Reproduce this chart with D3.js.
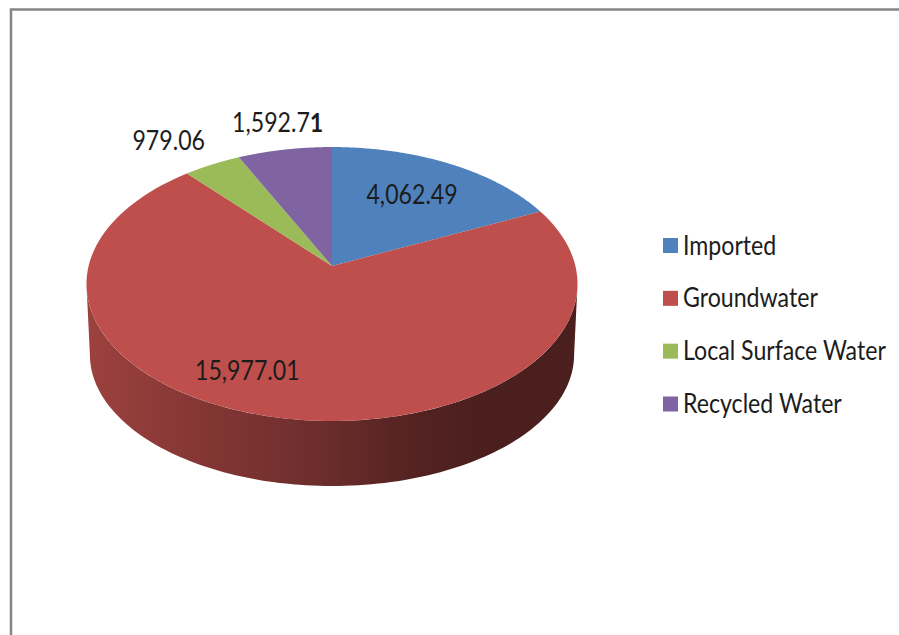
<!DOCTYPE html>
<html>
<head>
<meta charset="utf-8">
<style>
  html, body { margin: 0; padding: 0; background: #fff; }
  svg { display: block; }
  text { font-family: Lato, "Open Sans", sans-serif; fill: #1c1c1c; }
</style>
<script src="https://cdn.jsdelivr.net/npm/d3@7"></script>
</head>
<body>
<svg id="chart" width="899" height="635"></svg>
<script>
// Water supply by source
const categories = ["Imported", "Groundwater", "Local Surface Water", "Recycled Water"];
const values = [4062.49, 15977.01, 979.06, 1592.71];
const valueLabels = ["4,062.49", "15,977.01", "979.06", "1,592.7"];
const colors = ["#4f81bd", "#be4f4c", "#9bbb59", "#8064a2"];

// Disc tilted in perspective: u runs right, v runs away from the viewer.
const apex = { x: 332, y: 266 };
const topFace = { a: 243.4, b: 134.6, cy: apex.y };
const bottomFace = { a: 240, b: 129, cy: 337.5 };
const perspective = 0.1314;

// Text is set in a condensed cut of the face
const fontSize = 26;
const squeeze = 0.89;

function project(face, angle, r = 1) {
  const u = Math.sin(angle) * r, v = Math.cos(angle) * r;
  const w = 1 + perspective * v;
  return [apex.x + face.a * u / w, face.cy - face.b * v / w];
}

const svg = d3.select("#chart");
const line = d3.line();

const pie = d3.pie().sort(null).value(d => d);
const slices = pie(values);

// Outer frame: only the top and left edges fall inside the canvas
svg.append("path")
  .attr("d", "M11 635V9.5H899")
  .attr("fill", "none")
  .attr("stroke", "#858585")
  .attr("stroke-width", 2.5);

// Shaded wall colour runs left to right across the disc
const defs = svg.append("defs");
const wall = defs.append("linearGradient")
  .attr("id", "wallShade")
  .attr("gradientUnits", "userSpaceOnUse")
  .attr("x1", 88).attr("x2", 578).attr("y1", 0).attr("y2", 0);
[[0, 0.55], [0.22, 1.0], [0.48, 1.6], [0.68, 2.35], [0.82, 2.6], [1, 2.65]].forEach(([o, k]) => {
  wall.append("stop").attr("offset", o).attr("stop-color", d3.color(colors[1]).darker(k));
});

const samples = (from, to, n = 120) => d3.range(n + 1).map(i => from + (to - from) * i / n);

// The wall is visible on the near half of the disc, between the silhouette tangents
const tangent = Math.asin(perspective);
const frontStart = Math.PI / 2 + tangent;
const frontEnd = 3 * Math.PI / 2 - tangent;

slices.forEach((s, i) => {
  const from = Math.max(s.startAngle, frontStart);
  const to = Math.min(s.endAngle, frontEnd);
  if (to <= from) return;
  const angles = samples(from, to);
  const points = angles.map(a => project(topFace, a))
    .concat(angles.slice().reverse().map(a => project(bottomFace, a)));
  svg.append("path")
    .attr("d", line(points) + "Z")
    .attr("fill", "url(#wallShade)");
});

// Top face of every slice
slices.forEach((s, i) => {
  const rim = samples(s.startAngle, s.endAngle).map(a => project(topFace, a));
  svg.append("path")
    .attr("d", line([[apex.x, apex.y], ...rim]) + "Z")
    .attr("fill", colors[i]);
});

// Value labels: radial placement along each slice's middle, then a small nudge
const labelPlacement = [
  { r: 0.66, dx: 0, dy: -2 },
  { r: 0.72, dx: -45, dy: -1 },
  { r: 1.26, dx: -16, dy: -1 },
  { r: 1.27, dx: 4, dy: -1 }
];
slices.forEach((s, i) => {
  const mid = (s.startAngle + s.endAngle) / 2;
  const place = labelPlacement[i];
  const [x, y] = project(topFace, mid, place.r);
  const label = svg.append("text")
    .attr("transform", `translate(${x + place.dx},${y + place.dy}) scale(${squeeze},1)`)
    .attr("text-anchor", "middle")
    .attr("dominant-baseline", "central")
    .attr("font-size", fontSize)
    .text(valueLabels[i]);
  if (i === 3) label.append("tspan").attr("font-weight", 700).text("1");
});

// Legend
const legendY = d3.scalePoint().domain(categories).range([245.5, 404]);
const legend = svg.append("g").selectAll("g").data(categories).join("g")
  .attr("transform", d => `translate(663,${legendY(d)})`);
legend.append("rect")
  .attr("y", -7.5).attr("width", 15).attr("height", 15)
  .attr("fill", (d, i) => colors[i]);
legend.append("text")
  .attr("transform", `translate(20,-1) scale(${squeeze},1)`)
  .attr("dominant-baseline", "central")
  .attr("font-size", fontSize)
  .text(d => d);
</script>
</body>
</html>
